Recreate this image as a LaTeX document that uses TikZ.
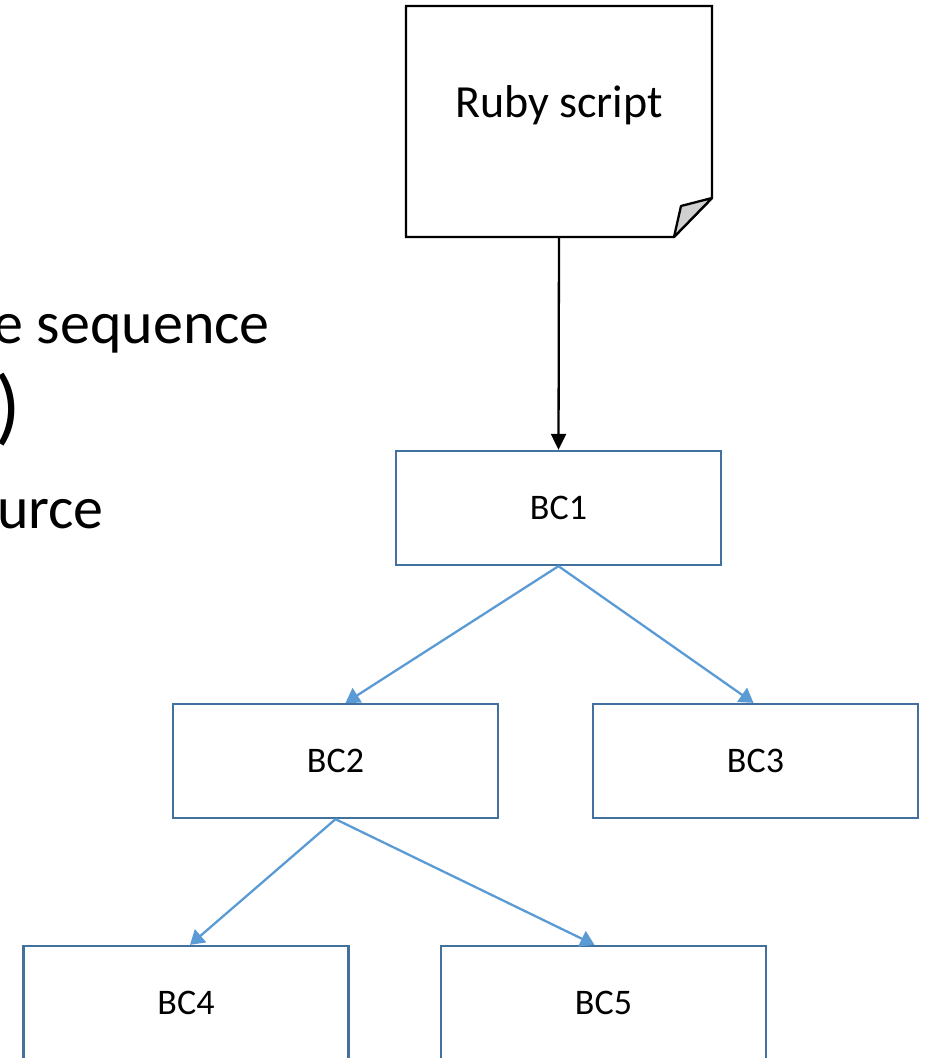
\documentclass[tikz,border=0pt]{standalone}
\usepackage{fontspec}
\setmainfont{Carlito}
\usetikzlibrary{arrows.meta}
\begin{document}
\begin{tikzpicture}[x=1pt,y=-1pt,
    bcbox/.style={draw=boxline,line width=2.3pt,minimum width=325pt,minimum height=114pt,
      inner sep=0pt,font=\fontsize{36}{42}\selectfont},
    treelink/.style={draw=link,line width=2.3pt,-{Triangle[length=14pt,width=17pt]}},
    slidetext/.style={anchor=base east,inner sep=0pt,font=\fontsize{60}{72}\selectfont}]
  \definecolor{boxline}{HTML}{41719C}
  \definecolor{link}{HTML}{5B9BD5}
  \definecolor{fold}{HTML}{D0D0D0}
  \path[use as bounding box] (0,0) rectangle (929,1058);
  \clip (0,0) rectangle (929,1058);
  % cut-off slide text on the left
  \node[slidetext] (seqline) at (270,343) {e sequence};
  \node[slidetext,font=\fontsize{84}{94}\selectfont] (parenline) at (21,434) {)};
  \node[slidetext] (sourceline) at (104,528) {urce};
  % script note with folded corner
  \node[minimum width=306pt,minimum height=231pt,inner sep=0pt,outer sep=0pt] (ruby) at (559,121.5) {};
  \draw[line width=2.3pt,line join=miter] (ruby.north west) -- (ruby.north east)
    -- ([yshift=39pt]ruby.south east) -- ([xshift=-38pt]ruby.south east) -- (ruby.south west) -- cycle;
  \draw[line width=2.3pt,fill=fold,line join=round] ([yshift=39pt]ruby.south east)
    -- ([xshift=-31pt,yshift=31pt]ruby.south east) -- ([xshift=-38pt]ruby.south east) -- cycle;
  \node[anchor=base,inner sep=0pt,font=\fontsize{46}{52}\selectfont] (rubylabel) at (559,117) {Ruby script};
  % the tree
  \node[bcbox] (bc1) at (558.5,508) {BC1};
  \node[bcbox] (bc2) at (335.5,761) {BC2};
  \node[bcbox] (bc3) at (755.5,761) {BC3};
  \node[bcbox] (bc4) at (186,1003) {BC4};
  \node[bcbox] (bc5) at (603.5,1003) {BC5};
  \draw[line width=2.3pt,-{Triangle[length=16pt,width=15pt]}] (ruby.south) -- (bc1.north);
  \draw[treelink] (bc1.south) -- ([xshift=10pt]bc2.north);
  \draw[treelink] (bc1.south) -- ([xshift=-2pt]bc3.north);
  \draw[treelink] (bc2.south) -- ([xshift=4pt]bc4.north);
  \draw[treelink] (bc2.south) -- ([xshift=-9pt]bc5.north);
\end{tikzpicture}
\end{document}
